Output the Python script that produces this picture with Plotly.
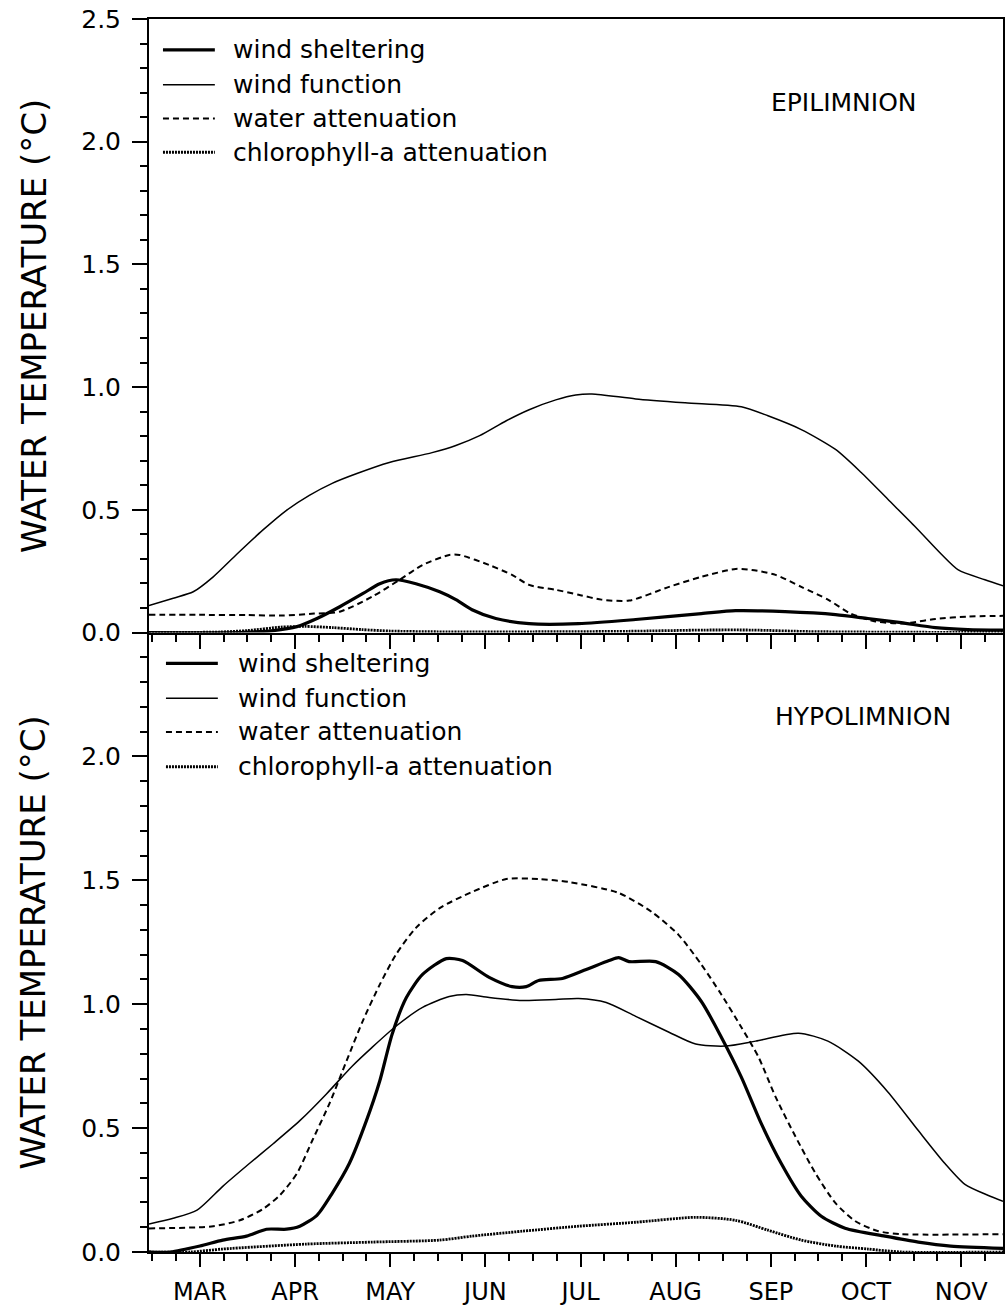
import plotly.graph_objects as go

# ---------------- data ----------------
MONTH_LABELS = ["MAR", "APR", "MAY", "JUN", "JUL", "AUG", "SEP", "OCT", "NOV"]
MONTH_POS = [3, 4, 5, 6, 7, 8, 9, 10, 11]
SERIES = ["wind sheltering", "wind function", "water attenuation", "chlorophyll-a attenuation"]
Y_TICKS_TOP = [0.0, 0.5, 1.0, 1.5, 2.0, 2.5]
Y_TICKS_BOTTOM = [0.0, 0.5, 1.0, 1.5, 2.0]

# Epilimnion
epi_shelter_x = [2.465, 3.42, 3.77, 4.02, 4.23, 4.47, 4.71, 4.89, 5.06, 5.27, 5.52, 5.69, 5.86, 6.11, 6.46,
                 6.98, 7.58, 8.27, 8.63, 9.15, 9.68, 10.02, 10.37, 10.73, 11.07, 11.44]
epi_shelter_y = [0.0, 0.0, 0.008, 0.024, 0.057, 0.105, 0.158, 0.199, 0.215, 0.199, 0.166, 0.134, 0.093, 0.057, 0.036,
                 0.036, 0.053, 0.077, 0.089, 0.085, 0.073, 0.057, 0.04, 0.02, 0.012, 0.01]

epi_wind_x = [2.465, 2.72, 2.93, 3.14, 3.39, 3.66, 3.91, 4.15, 4.39, 4.65, 4.99, 5.44, 5.69, 5.94, 6.22, 6.46,
              6.74, 6.95, 7.12, 7.58, 8.10, 8.69, 8.97, 9.32, 9.68, 9.95, 10.23, 10.52, 10.79, 10.97, 11.25, 11.44]
epi_wind_y = [0.11, 0.14, 0.166, 0.227, 0.32, 0.417, 0.498, 0.559, 0.608, 0.648, 0.693, 0.733, 0.762, 0.802, 0.863, 0.908,
              0.948, 0.968, 0.972, 0.952, 0.936, 0.920, 0.883, 0.827, 0.746, 0.652, 0.543, 0.43, 0.32, 0.255, 0.215, 0.19]

epi_water_x = [2.465, 3.0, 3.5, 3.87, 4.2, 4.47, 4.81, 5.10, 5.34, 5.62, 5.73, 6.04, 6.28, 6.46, 6.74, 6.98, 7.22,
               7.51, 7.93, 8.27, 8.63, 8.80, 9.05, 9.32, 9.60, 9.84, 10.10, 10.37, 10.47, 10.73, 11.07, 11.44]
epi_water_y = [0.072, 0.072, 0.071, 0.069, 0.077, 0.085, 0.146, 0.215, 0.275, 0.316, 0.316, 0.275, 0.235, 0.194, 0.174,
               0.154, 0.134, 0.130, 0.186, 0.227, 0.259, 0.255, 0.235, 0.186, 0.134, 0.077, 0.045, 0.037, 0.040, 0.055,
               0.065, 0.068]

epi_chl_x = [2.465, 3.2, 3.5, 3.85, 4.1, 4.4, 4.7, 5.0, 5.5, 6.5, 7.5, 8.3, 8.8, 9.4, 10.0, 11.44]
epi_chl_y = [0.0, 0.002, 0.008, 0.022, 0.025, 0.02, 0.012, 0.006, 0.003, 0.003, 0.005, 0.01, 0.01, 0.004, 0.002, 0.0]

# Hypolimnion
hypo_shelter_x = [2.465, 2.69, 3.0, 3.24, 3.49, 3.70, 3.91, 4.05, 4.23, 4.39, 4.57, 4.75, 4.89, 5.02, 5.17, 5.34,
                  5.59, 5.76, 6.04, 6.28, 6.43, 6.56, 6.81, 7.06, 7.30, 7.40, 7.51, 7.79, 8.03, 8.27, 8.48, 8.69,
                  8.90, 9.11, 9.32, 9.53, 9.78, 10.20, 10.55, 10.89, 11.44]
hypo_shelter_y = [0.0, 0.0, 0.024, 0.048, 0.064, 0.092, 0.092, 0.104, 0.148, 0.237, 0.357, 0.530, 0.690, 0.879, 1.027,
                  1.120, 1.184, 1.176, 1.108, 1.071, 1.071, 1.096, 1.104, 1.140, 1.176, 1.188, 1.172, 1.172, 1.120,
                  1.011, 0.867, 0.706, 0.518, 0.357, 0.225, 0.144, 0.096, 0.064, 0.040, 0.024, 0.015]

hypo_wind_x = [2.465, 2.72, 2.97, 3.24, 3.52, 3.77, 4.05, 4.33, 4.60, 4.81, 5.06, 5.34, 5.62, 5.80, 6.04, 6.39,
               6.74, 6.98, 7.27, 7.58, 7.93, 8.21, 8.52, 8.84, 9.29, 9.60, 9.92, 10.23, 10.55, 10.83, 11.04, 11.28,
               11.44]
hypo_wind_y = [0.113, 0.136, 0.169, 0.265, 0.357, 0.437, 0.530, 0.638, 0.750, 0.826, 0.911, 0.987, 1.031, 1.039,
               1.027, 1.015, 1.019, 1.023, 1.007, 0.951, 0.887, 0.839, 0.831, 0.851, 0.883, 0.851, 0.770, 0.646,
               0.490, 0.357, 0.273, 0.229, 0.205]

hypo_water_x = [2.465, 3.14, 3.42, 3.66, 3.84, 4.02, 4.18, 4.36, 4.54, 4.71, 4.89, 5.06, 5.27, 5.52, 5.86, 6.22,
                6.56, 6.88, 7.40, 7.75, 8.03, 8.27, 8.48, 8.69, 8.87, 9.05, 9.26, 9.47, 9.68, 9.89, 10.13, 10.37,
                11.44]
hypo_water_y = [0.095, 0.104, 0.128, 0.173, 0.229, 0.317, 0.449, 0.598, 0.770, 0.931, 1.079, 1.200, 1.308, 1.388,
                1.453, 1.505, 1.505, 1.493, 1.449, 1.372, 1.280, 1.160, 1.039, 0.907, 0.787, 0.626, 0.465, 0.317,
                0.197, 0.124, 0.084, 0.072, 0.072]

hypo_chl_x = [2.465, 2.9, 3.24, 4.12, 4.81, 5.52, 5.86, 6.39, 6.98, 7.58, 8.21, 8.63, 8.97, 9.32, 9.68, 10.02,
              10.37, 11.44]
hypo_chl_y = [0.0, 0.0, 0.012, 0.032, 0.040, 0.048, 0.064, 0.084, 0.104, 0.120, 0.140, 0.128, 0.088, 0.048, 0.024,
              0.012, 0.0, 0.0]

# ---------------- layout geometry ----------------
W, H = 1007, 1308
L, R, T, B = 149, 2, 19, 49
PW, PH = W - L - R, H - T - B
SPLIT_PX = 636
SPLIT = (H - B - SPLIT_PX) / PH
FONT = "DejaVu Sans"


def px(x):
    return (x - L) / PW


def py(y):
    return (H - B - y) / PH


STYLE = {
    SERIES[0]: dict(width=3.2, dash="solid"),
    SERIES[1]: dict(width=1.5, dash="solid"),
    SERIES[2]: dict(width=2.0, dash="6px,4px"),
    SERIES[3]: dict(width=2.8, dash="2px,1px"),
}

fig = go.Figure()

panels = [
    ("x", "y", [(epi_shelter_x, epi_shelter_y), (epi_wind_x, epi_wind_y),
                (epi_water_x, epi_water_y), (epi_chl_x, epi_chl_y)]),
    ("x2", "y2", [(hypo_shelter_x, hypo_shelter_y), (hypo_wind_x, hypo_wind_y),
                  (hypo_water_x, hypo_water_y), (hypo_chl_x, hypo_chl_y)]),
]
for xa, ya, data in panels:
    for name, (xs, ys) in zip(SERIES, data):
        st = STYLE[name]
        fig.add_trace(go.Scatter(
            x=xs, y=ys, xaxis=xa, yaxis=ya, mode="lines", name=name, showlegend=False,
            line=dict(color="black", width=st["width"], dash=st["dash"], shape="spline", smoothing=0.7),
            hoverinfo="skip"))

XR = [2.465, 11.44]
YR = [0, 2.5]
axis_common = dict(showgrid=False, zeroline=False, showline=True, linecolor="black", linewidth=2,
                   tickcolor="black", tickwidth=1.5)

x_minor = dict(tickmode="linear", tick0=3, dtick=0.25, ticks="outside", ticklen=7,
               tickwidth=1.5, tickcolor="black")
y_minor_out = dict(tickmode="linear", tick0=0, dtick=0.1, ticks="outside", ticklen=7,
                   tickwidth=1.5, tickcolor="black")
y_minor_in = dict(tickmode="linear", tick0=0, dtick=0.1, ticks="inside", ticklen=6,
                  tickwidth=1.5, tickcolor="black")

fig.update_layout(
    width=W, height=H,
    margin=dict(l=L, r=R, t=T, b=B, pad=0),
    paper_bgcolor="white", plot_bgcolor="white",
    font=dict(family=FONT, color="black"),
    showlegend=False,
    xaxis=dict(domain=[0, 1], anchor="y", range=XR, tickmode="array", tickvals=MONTH_POS,
               ticks="outside", ticklen=14, showticklabels=False, mirror=True, minor=x_minor,
               **axis_common),
    yaxis=dict(domain=[SPLIT, 1], anchor="x", range=YR, tickmode="array", tickvals=Y_TICKS_TOP,
               ticktext=[f"{v:.1f}" for v in Y_TICKS_TOP], ticks="outside", ticklen=15,
               ticklabelstandoff=6, tickfont=dict(size=25, family=FONT), mirror=True,
               minor=y_minor_out, **axis_common),
    yaxis3=dict(overlaying="y", anchor="x", side="right", range=YR, tickmode="array",
                tickvals=Y_TICKS_TOP, ticks="inside", ticklen=12, showticklabels=False,
                showline=False, showgrid=False, zeroline=False, tickcolor="black", tickwidth=1.5,
                minor=y_minor_in),
    xaxis2=dict(domain=[0, 1], anchor="y2", range=XR, tickmode="array", tickvals=MONTH_POS,
                ticktext=MONTH_LABELS, ticks="outside", ticklen=13, ticklabelstandoff=4,
                tickfont=dict(size=24, family=FONT), minor=x_minor, **axis_common),
    yaxis2=dict(domain=[0, SPLIT], anchor="x2", range=YR, tickmode="array", tickvals=Y_TICKS_BOTTOM,
                ticktext=[f"{v:.1f}" for v in Y_TICKS_BOTTOM], ticks="outside", ticklen=15,
                ticklabelstandoff=6, tickfont=dict(size=25, family=FONT), mirror=True,
                minor=y_minor_out, **axis_common),
    yaxis4=dict(overlaying="y2", anchor="x2", side="right", range=YR, tickmode="array",
                tickvals=Y_TICKS_TOP, ticks="inside", ticklen=12, showticklabels=False,
                showline=False, showgrid=False, zeroline=False, tickcolor="black", tickwidth=1.5,
                minor=y_minor_in),
)

annotations = []
shapes = []

# y-axis titles
for yc in [(T + SPLIT_PX) / 2, (SPLIT_PX + H - B) / 2]:
    annotations.append(dict(text="WATER TEMPERATURE (°C)", xref="paper", yref="paper",
                            x=px(33), y=py(yc), xanchor="center", yanchor="middle",
                            textangle=-90, showarrow=False, font=dict(size=34, family=FONT)))

# panel labels
annotations.append(dict(text="EPILIMNION", xref="paper", yref="paper", x=px(846), y=py(103),
                        xanchor="center", yanchor="middle", showarrow=False,
                        font=dict(size=25, family=FONT)))
annotations.append(dict(text="HYPOLIMNION", xref="paper", yref="paper", x=px(865), y=py(720),
                        xanchor="center", yanchor="middle", showarrow=False,
                        font=dict(size=25, family=FONT)))

# legends (one per panel)
legend_specs = [
    dict(x0=163, x1=215, tx=231, rows=[50, 85, 119, 153]),
    dict(x0=166, x1=218, tx=236, rows=[667, 702, 736, 771]),
]
for spec in legend_specs:
    for name, yr in zip(SERIES, spec["rows"]):
        st = STYLE[name]
        shapes.append(dict(type="line", xref="paper", yref="paper",
                           x0=px(spec["x0"]), x1=px(spec["x1"]), y0=py(yr), y1=py(yr),
                           line=dict(color="black", width=st["width"], dash=st["dash"])))
        annotations.append(dict(text=name, xref="paper", yref="paper", x=px(spec["tx"]), y=py(yr),
                                xanchor="left", yanchor="middle", showarrow=False,
                                font=dict(size=25, family=FONT)))

fig.update_layout(annotations=annotations, shapes=shapes)

fig.write_html("out.html")
